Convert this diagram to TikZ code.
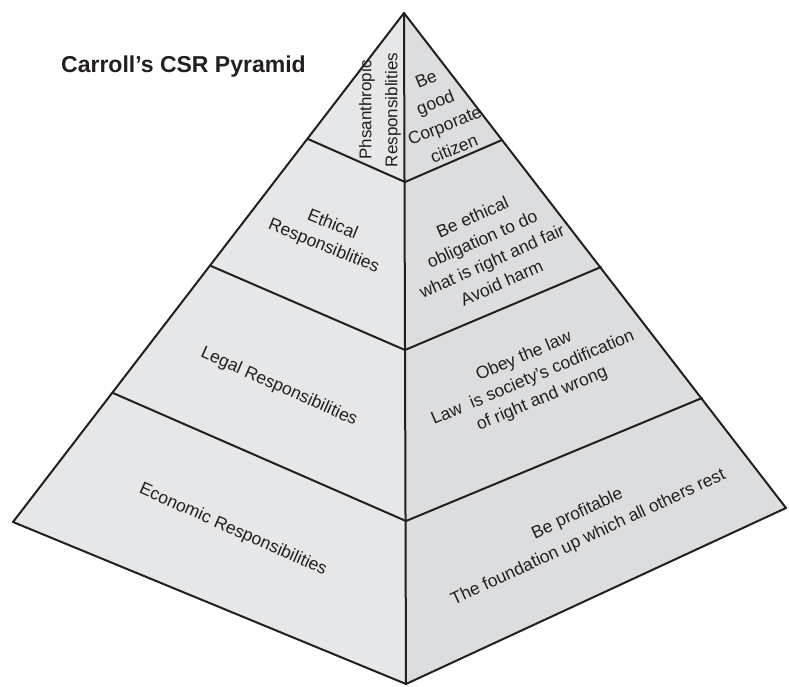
\documentclass[tikz,border=0pt]{standalone}
\usepackage{fontspec}
\setmainfont{Liberation Sans}
\definecolor{leftface}{HTML}{E6E7E8}
\definecolor{rightface}{HTML}{DCDDDF}
\definecolor{ink}{HTML}{231F20}
\begin{document}
\begin{tikzpicture}[x=1pt,y=-1pt,
  edge/.style={draw=ink,line width=2pt,line join=round,line cap=round},
  lbl/.style={text=ink,font=\fontsize{17.5}{22}\selectfont,align=center,inner sep=0pt},
  titlebox/.style={text=ink,font=\bfseries\fontsize{23}{27}\selectfont,inner sep=0pt}]
\useasboundingbox (0,0) rectangle (789,687);
% corners
\coordinate (A) at (404,13);
\coordinate (L0) at (308,139); \coordinate (C0) at (405,182); \coordinate (R0) at (502,140);
\coordinate (L1) at (211,266); \coordinate (C1) at (405,350); \coordinate (R1) at (601,267);
\coordinate (L2) at (113,393); \coordinate (C2) at (406,521); \coordinate (R2) at (702,398);
\coordinate (L3) at (13,522);  \coordinate (C3) at (406,684); \coordinate (R3) at (786,508);
% faces
\fill[leftface] (A) -- (L3) -- (C3) -- cycle;
\fill[rightface] (A) -- (C3) -- (R3) -- cycle;
% outline and bands
\draw[edge] (A) -- (L3) -- (C3) -- (R3) -- cycle;
\draw[edge] (A) -- (C3);
\draw[edge] (L0) -- (C0) -- (R0);
\draw[edge] (L1) -- (C1) -- (R1);
\draw[edge] (L2) -- (C2) -- (R2);
% title
\node[titlebox,anchor=base west] (title) at (61,73) {Carroll’s CSR Pyramid};
% labels
\node[lbl,rotate=90,font=\fontsize{17}{26}\selectfont] (phil) at (380,110) {Phsanthropic\\Responsiblities};
\node[lbl,rotate=22,font=\fontsize{17.5}{25}\selectfont] (philr) at (440,114) {Be\\good\\Corporate\\citizen};
\node[lbl,rotate=-22,font=\fontsize{17.5}{23}\selectfont] (eth) at (328,236) {Ethical\\Responsiblities};
\node[lbl,rotate=24,font=\fontsize{17.5}{24}\selectfont] (ethr) at (487,250) {Be ethical\\obligation to do\\what is right and fair\\Avoid harm};
\node[lbl,rotate=-24] (leg) at (279,387) {Legal Responsibilities};
\node[lbl,rotate=23,font=\fontsize{17.5}{23}\selectfont] (legr) at (533,378) {Obey the law\\Law\ \ is society’s codification\\of right and wrong};
\node[lbl,rotate=-24] (eco) at (233,530) {Economic Responsibilities};
\node[lbl,rotate=25,font=\fontsize{17.5}{26}\selectfont] (ecor) at (583,526) {Be profitable\\The foundation up which all others rest};
\end{tikzpicture}
\end{document}
